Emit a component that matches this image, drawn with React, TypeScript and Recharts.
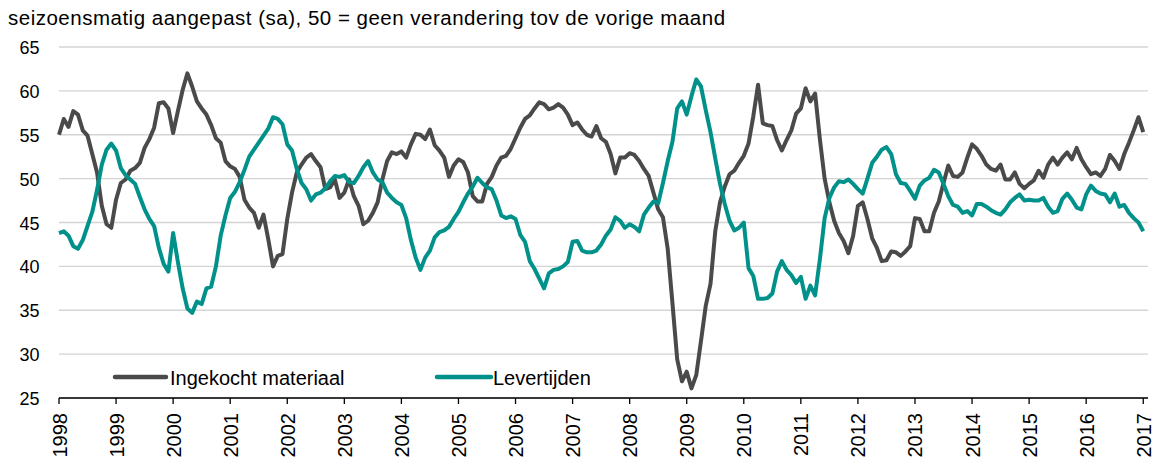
import { CartesianGrid, Line, LineChart, XAxis, YAxis } from "recharts";

const COLORS = {
  ingekocht: "#4a4a4a",
  levertijden: "#00918a",
  grid: "#d4d4d4",
  axis: "#000000",
};

const FONT = "'Liberation Sans', Arial, sans-serif";

// maandcijfers jan 1998 - jan 2017
const INGEKOCHT = [
  55.0, 56.8, 55.9, 57.7, 57.3, 55.5, 54.9, 52.8, 50.7, 46.9, 44.8, 44.4,
  47.6, 49.5, 49.9, 50.9, 51.2, 51.8, 53.5, 54.5, 55.8, 58.6, 58.7, 58.0,
  55.2, 57.7, 60.1, 62.0, 60.5, 58.8, 58.0, 57.3, 56.1, 54.6, 54.1, 52.0,
  51.4, 51.1, 50.2, 47.6, 46.7, 46.1, 44.4, 45.9, 43.1, 40.0, 41.2, 41.4,
  45.4, 48.4, 50.7, 51.6, 52.4, 52.8, 52.0, 51.3, 48.8, 49.0, 49.9, 47.8,
  48.4, 49.9, 48.0, 46.9, 44.8, 45.2, 46.1, 47.3, 49.9, 52.0, 53.0, 52.8,
  53.1, 52.4, 53.9, 55.1, 55.0, 54.5, 55.6, 53.8, 53.2, 52.4, 50.2, 51.5,
  52.2, 51.9, 50.7, 48.0, 47.4, 47.4, 49.4, 50.2, 51.5, 52.4, 52.6, 53.4,
  54.6, 55.8, 56.8, 57.2, 58.0, 58.7, 58.5, 57.9, 58.1, 58.5, 58.1, 57.3,
  56.1, 56.4, 55.6, 55.0, 54.8, 56.0, 54.6, 54.2, 52.8, 50.6, 52.4, 52.4,
  52.9, 52.7, 52.0, 51.1, 50.3, 48.4, 46.5, 45.6, 42.0, 35.8, 29.4, 26.9,
  28.0, 26.1, 27.6, 31.5, 35.5, 38.0, 44.0, 47.3, 49.1, 50.5, 50.9, 51.8,
  52.6, 54.0, 57.1, 60.7, 56.3, 56.1, 56.0, 54.4, 53.2, 54.4, 55.5, 57.4,
  58.0, 60.3, 58.8, 59.7, 54.5, 50.0, 47.3, 45.2, 43.8, 42.9, 41.5, 43.5,
  46.9, 47.3, 45.4, 43.2, 42.1, 40.6, 40.7, 41.7, 41.6, 41.2, 41.7, 42.3,
  45.5, 45.4, 44.0, 44.0, 46.1, 47.4, 49.5, 51.5, 50.3, 50.2, 50.7, 52.4,
  53.9, 53.4, 52.6, 51.6, 51.1, 50.9, 51.6, 49.9, 49.9, 50.7, 49.4, 48.9,
  49.4, 49.8, 50.9, 50.1, 51.6, 52.4, 51.6, 52.4, 53.0, 52.2, 53.5, 52.2,
  51.3, 50.5, 50.7, 50.3, 51.1, 52.7, 52.0, 51.1, 52.8, 54.1, 55.5, 57.0,
  55.3,
];

const LEVERTIJDEN = [
  43.8, 44.0, 43.5, 42.3, 42.0, 43.0, 44.6, 46.2, 48.7, 51.6, 53.3, 54.0,
  53.2, 51.2, 50.4, 49.9, 49.4, 47.9, 46.5, 45.4, 44.6, 42.1, 40.3, 39.4,
  43.8, 40.5, 37.5, 35.2, 34.7, 36.0, 35.7, 37.5, 37.7, 40.0, 43.5, 45.8,
  47.8, 48.5, 49.6, 51.0, 52.5, 53.3, 54.1, 54.9, 55.7, 57.0, 56.8, 56.2,
  53.9, 53.2, 51.1, 49.5, 48.8, 47.5, 48.2, 48.4, 48.9, 49.7, 50.3, 50.2,
  50.4, 49.6, 49.5, 50.3, 51.3, 52.0, 50.7, 49.9, 49.6, 48.4, 47.8, 47.3,
  47.0, 45.5, 43.0, 41.0, 39.6, 41.0, 41.8, 43.3, 43.9, 44.1, 44.5, 45.4,
  46.2, 47.3, 48.3, 49.1, 50.1, 49.5, 49.0, 48.8, 47.5, 45.8, 45.5, 45.7,
  45.4, 43.6, 42.8, 40.6, 39.7, 38.6, 37.5, 39.2, 39.6, 39.7, 40.0, 40.5,
  42.8, 42.9, 41.8, 41.6, 41.6, 41.8, 42.5, 43.5, 44.2, 45.6, 45.2, 44.4,
  44.8, 44.5, 44.0, 45.9, 46.7, 47.4, 47.2, 49.5, 52.0, 54.2, 58.0, 58.8,
  57.3, 59.4, 61.3, 60.5, 57.8, 55.3, 52.3, 49.4, 47.1, 45.2, 44.1, 44.4,
  45.0, 39.8, 38.9, 36.3, 36.3, 36.4, 36.9, 39.4, 40.6, 39.6, 39.0, 38.1,
  38.8, 36.3, 37.8, 36.7, 40.8, 45.5, 47.8, 49.0, 49.7, 49.6, 49.9, 49.4,
  48.8, 48.3, 50.0, 51.8, 52.5, 53.3, 53.6, 52.8, 50.5, 49.5, 49.4, 48.6,
  47.7, 49.2, 49.8, 50.1, 51.0, 50.7, 49.4, 48.0, 47.0, 46.8, 46.1, 46.3,
  45.8, 47.1, 47.1, 46.8, 46.4, 46.1, 45.9, 46.5, 47.3, 47.8, 48.2, 47.5,
  47.6, 47.5, 47.5, 47.8, 46.8, 46.1, 46.3, 47.7, 48.3, 47.6, 46.7, 46.5,
  48.2, 49.2, 48.6, 48.3, 48.2, 47.3, 48.3, 46.8, 47.0, 46.1, 45.5, 45.0,
  44.0,
];

const FIRST_YEAR = 1998;
const YEARS = [
  1998, 1999, 2000, 2001, 2002, 2003, 2004, 2005, 2006, 2007, 2008, 2009,
  2010, 2011, 2012, 2013, 2014, 2015, 2016, 2017,
];
const Y_TICKS = [25, 30, 35, 40, 45, 50, 55, 60, 65];

const TITLE =
  "seizoensmatig aangepast (sa), 50 = geen verandering tov de vorige maand";

const data = INGEKOCHT.map((v, i) => ({
  m: i,
  ingekocht: v,
  levertijden: LEVERTIJDEN[i],
}));

const monthTicks = YEARS.map((y) => (y - FIRST_YEAR) * 12);

function YTick({ y, payload }: any) {
  return (
    <text
      x={39.5}
      y={y + 1}
      textAnchor="end"
      dominantBaseline="central"
      fontSize={18}
      fontFamily={FONT}
      fill="#000"
    >
      {payload.value}
    </text>
  );
}

function XTick({ x, payload }: any) {
  return (
    <text
      transform={`translate(${x + 0.5},413) rotate(-90)`}
      textAnchor="end"
      dominantBaseline="central"
      fontSize={20}
      fontFamily={FONT}
      fill="#000"
    >
      {FIRST_YEAR + payload.value / 12}
    </text>
  );
}

export default function App() {
  return (
    <div
      style={{
        position: "absolute",
        left: 0,
        top: 0,
        width: 1159,
        height: 460,
        background: "#fff",
      }}
    >
      <LineChart
        width={1159}
        height={460}
        data={data}
        margin={{ top: 47, right: 11, left: 0, bottom: 0 }}
      >
        <CartesianGrid vertical={false} stroke={COLORS.grid} strokeWidth={1.3} />
        <XAxis
          dataKey="m"
          type="number"
          domain={[0, 229]}
          ticks={monthTicks}
          interval={0}
          height={62}
          stroke={COLORS.axis}
          strokeWidth={1.3}
          tickSize={6}
          tick={<XTick />}
        />
        <YAxis
          domain={[25, 65]}
          ticks={Y_TICKS}
          width={59}
          axisLine={false}
          tickLine={false}
          interval={0}
          tick={<YTick />}
        />
        <Line
          type="linear"
          dataKey="ingekocht"
          stroke={COLORS.ingekocht}
          strokeWidth={4}
          strokeLinejoin="round"
          dot={false}
          isAnimationActive={false}
        />
        <Line
          type="linear"
          dataKey="levertijden"
          stroke={COLORS.levertijden}
          strokeWidth={4}
          strokeLinejoin="round"
          dot={false}
          isAnimationActive={false}
        />
      </LineChart>
      <svg
        width={1159}
        height={460}
        style={{ position: "absolute", left: 0, top: 0, pointerEvents: "none" }}
      >
        <text
          x={8}
          y={25}
          fontSize={20.5}
          letterSpacing={0.5}
          fontFamily={FONT}
          fill="#000"
        >
          {TITLE}
        </text>
        <line
          x1={115}
          y1={377}
          x2={166}
          y2={377}
          stroke={COLORS.ingekocht}
          strokeWidth={4.5}
          strokeLinecap="round"
        />
        <text x={170} y={385} fontSize={20} fontFamily={FONT} fill="#000">
          Ingekocht materiaal
        </text>
        <line
          x1={437}
          y1={377}
          x2={491}
          y2={377}
          stroke={COLORS.levertijden}
          strokeWidth={4.5}
          strokeLinecap="round"
        />
        <text x={493} y={385} fontSize={20} fontFamily={FONT} fill="#000">
          Levertijden
        </text>
      </svg>
    </div>
  );
}
